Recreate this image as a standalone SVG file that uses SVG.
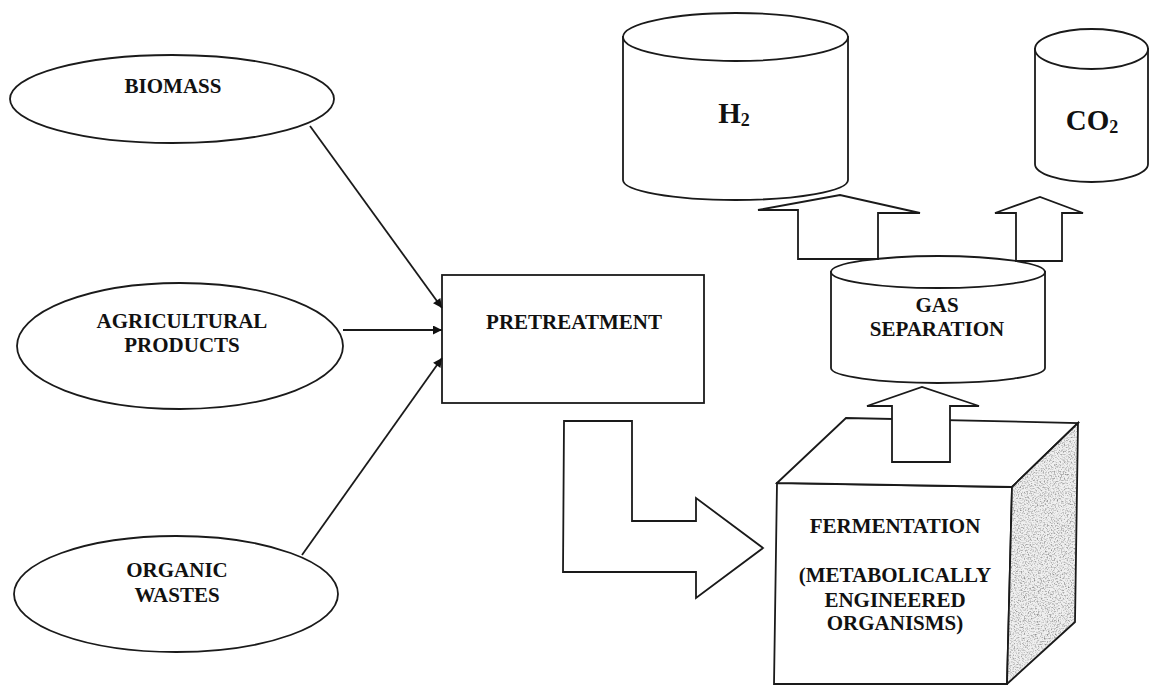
<svg xmlns="http://www.w3.org/2000/svg" width="1149" height="685" viewBox="0 0 1149 685">
<style>
.s{fill:#fff;stroke:#1a1a1a;stroke-width:1.8;stroke-linejoin:miter}
.n{fill:none;stroke:#1a1a1a;stroke-width:1.8}
.t{font-family:"Liberation Serif","Times New Roman",serif;font-weight:bold;font-size:21px;fill:#111;text-anchor:middle}
.big{font-size:29px}
.c{stroke:#1a1a1a;stroke-width:1.8;fill:none}
</style>
<defs>
<marker id="ah" viewBox="0 0 10 10" refX="10" refY="5" markerWidth="11" markerHeight="9" markerUnits="userSpaceOnUse" orient="auto">
<path d="M0,0 L10,5 L0,10 Z" fill="#111"/>
</marker>
<filter id="stip" x="0%" y="0%" width="100%" height="100%" color-interpolation-filters="sRGB">
<feTurbulence type="fractalNoise" baseFrequency="0.7" numOctaves="2" seed="7" result="n"/>
<feColorMatrix in="n" type="matrix" values="0 0 0 0 0.55  0 0 0 0 0.55  0 0 0 0 0.55  2.6 0 0 0 -1.2" result="d"/>
<feComposite in="d" in2="SourceAlpha" operator="in" result="dc"/>
<feMerge><feMergeNode in="SourceGraphic"/><feMergeNode in="dc"/></feMerge>
</filter>
</defs>
<rect width="1149" height="685" fill="#fff"/>

<g id="biomass">
<ellipse class="s" cx="172" cy="99" rx="162" ry="44"/>
<text class="t" x="173" y="93">BIOMASS</text>
</g>
<g id="agricultural">
<ellipse class="s" cx="180" cy="346" rx="163" ry="63"/>
<text class="t" x="182" y="328">AGRICULTURAL</text>
<text class="t" x="182" y="352">PRODUCTS</text>
</g>
<g id="organic">
<ellipse class="s" cx="176" cy="594" rx="162" ry="58"/>
<text class="t" x="177" y="577">ORGANIC</text>
<text class="t" x="177" y="602">WASTES</text>
</g>
<g id="pretreatment">
<rect class="s" x="442" y="275" width="262" height="128"/>
<text class="t" x="574" y="329">PRETREATMENT</text>
</g>
<g id="h2">
<path class="s" d="M623,37 L623,180 A112.5,20 0 0 0 848,180 L848,37 Z"/>
<ellipse class="s" cx="735.5" cy="37" rx="112.5" ry="24"/>
<text class="t big" x="734" y="123">H<tspan font-size="18" dy="3">2</tspan></text>
</g>
<g id="co2">
<path class="s" d="M1035,49 L1035,164 A56.5,18 0 0 0 1148,164 L1148,49 Z"/>
<ellipse class="s" cx="1091.5" cy="49" rx="56.5" ry="20"/>
<text class="t big" x="1092" y="130">CO<tspan font-size="18" dy="3">2</tspan></text>
</g>
<g id="gas-separation">
<path class="s" d="M831,272 L831,368 A107,15 0 0 0 1045,368 L1045,272 Z"/>
<ellipse class="s" cx="938" cy="272" rx="107" ry="16"/>
<text class="t" x="937" y="312">GAS</text>
<text class="t" x="937" y="336">SEPARATION</text>
</g>
<g id="fermentation">
<polygon class="s" points="777,483 1012,487 1007,684 774,684"/>
<polygon class="s" points="777,483 846,418 1078,423 1012,487"/>
<polygon points="1012,487 1078,423 1075,622 1007,684" fill="#f0f0f0" filter="url(#stip)"/>
<polygon class="n" points="1012,487 1078,423 1075,622 1007,684"/>
<text class="t" x="895" y="533">FERMENTATION</text>
<text class="t" x="895" y="582">(METABOLICALLY</text>
<text class="t" x="895" y="607">ENGINEERED</text>
<text class="t" x="895" y="630">ORGANISMS)</text>
</g>
<g id="connectors">
<line class="c" x1="310" y1="126" x2="442" y2="308" marker-end="url(#ah)"/>
<line class="c" x1="343" y1="330" x2="442" y2="330" marker-end="url(#ah)"/>
<line class="c" x1="302" y1="555" x2="442" y2="358" marker-end="url(#ah)"/>
<polygon class="s" points="564,421 632,421 632,521 696,521 696,498 763,548 696,598 696,572 563,572"/>
<polygon class="s" points="892,462 892,406 867,406 922,387 979,406 950,406 950,462"/>
<polygon class="s" points="798,259 798,210 758,210 840,195 920,213 878,213 878,259"/>
<polygon class="s" points="1016,261 1016,213 995,213 1040,197 1083,213 1062,213 1062,261"/>
</g>
</svg>
